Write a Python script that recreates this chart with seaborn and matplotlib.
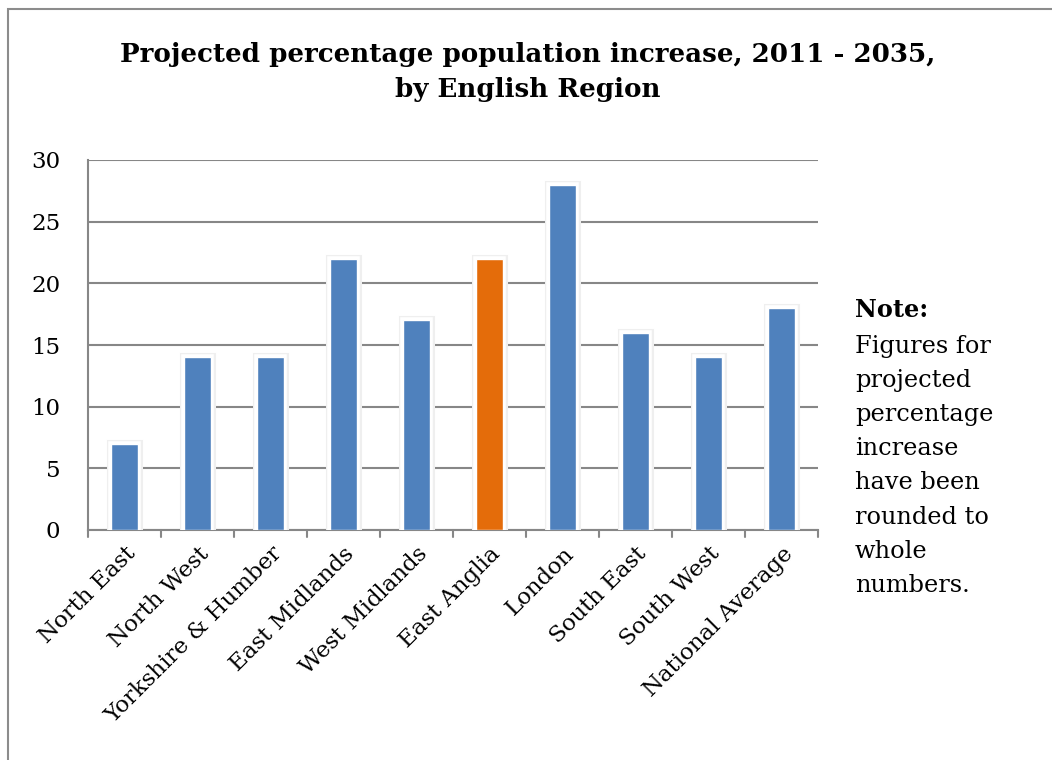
import matplotlib
matplotlib.use("Agg")
import matplotlib.pyplot as plt
import matplotlib.patheffects as pe
from matplotlib.patches import Rectangle
import seaborn as sns

regions = ["North East", "North West", "Yorkshire & Humber", "East Midlands",
           "West Midlands", "East Anglia", "London", "South East", "South West",
           "National Average"]
increase_pct = [7, 14, 14, 22, 17, 22, 28, 16, 14, 18]
highlight = "East Anglia"
y_ticks = [0, 5, 10, 15, 20, 25, 30]
title_lines = ["Projected percentage population increase, 2011 - 2035,",
               "by English Region"]
note_title = "Note:"
note_lines = ["Figures for", "projected", "percentage", "increase", "have been",
              "rounded to", "whole", "numbers."]

BLUE = "#4F81BD"
ORANGE = "#E46C0A"
GRID = "#878787"
FONT = "DejaVu Serif"
W, H = 1052, 760

sns.set_theme(style="white")
plt.rcParams["font.family"] = [FONT]
plt.rcParams["text.color"] = "black"
plt.rcParams["xtick.color"] = "black"
plt.rcParams["ytick.color"] = "black"

fig = plt.figure(figsize=(W / 100, H / 100), dpi=100)
ax = fig.add_axes([88 / W, 1 - 530 / H, 730 / W, 370 / H])

palette = {r: (ORANGE if r == highlight else BLUE) for r in regions}
sns.barplot(x=regions, y=increase_pct, hue=regions, palette=palette,
            legend=False, width=0.38, saturation=1, ax=ax, zorder=3)

# soft glow around each bar
for bar in ax.patches:
    bar.set_edgecolor("white")
    bar.set_linewidth(1.0)
    bar.set_path_effects([
        pe.Stroke(linewidth=6.5, foreground="#efefef"),
        pe.Stroke(linewidth=4, foreground="white"),
        pe.Normal(),
    ])

ax.set_xlim(-0.5, len(regions) - 0.5)
ax.set_ylim(0, 30)
ax.set_yticks(y_ticks)
ax.set_yticklabels([str(t) for t in y_ticks], fontsize=16.5, color="black")
ax.yaxis.grid(True, color=GRID, linewidth=1.5, zorder=0)
ax.set_axisbelow(True)

# category labels, with boundary ticks drawn between categories
ax.set_xticks(range(len(regions)))
ax.set_xticklabels(regions, rotation=45, ha="right", rotation_mode="anchor",
                   fontsize=16.5, color="black")
ax.tick_params(axis="x", length=0, pad=9)
for b in [i - 0.5 for i in range(len(regions) + 1)]:
    ax.plot([b, b], [0, -0.55], color=GRID, linewidth=1.5, clip_on=False, zorder=1)
ax.tick_params(axis="y", direction="out", length=6, width=1.5, color=GRID, pad=14)

for s in ["top", "right"]:
    ax.spines[s].set_visible(False)
for s in ["left", "bottom"]:
    ax.spines[s].set_color(GRID)
    ax.spines[s].set_linewidth(1.5)
ax.set_xlabel("")
ax.set_ylabel("")

# title, two centred lines
for txt, base in zip(title_lines, [62, 97]):
    fig.text(528 / W, 1 - base / H, txt, ha="center", va="baseline",
             fontsize=18.8, fontweight="bold")

# side note
fig.text(855 / W, 1 - 317 / H, note_title, ha="left", va="baseline",
         fontsize=17.3, fontweight="bold")
for i, line in enumerate(note_lines):
    fig.text(855 / W, 1 - (353 + 34.1 * i) / H, line, ha="left",
             va="baseline", fontsize=17.3)

# chart frame (top and left edges visible)
fig.patches.append(Rectangle((7.5 / W, -0.05), 1.2, (1 - 9.5 / H) + 0.05,
                             transform=fig.transFigure, fill=False,
                             edgecolor="#8c8c8c", linewidth=1.5))

fig.savefig("out.png", dpi=100, facecolor="white")
